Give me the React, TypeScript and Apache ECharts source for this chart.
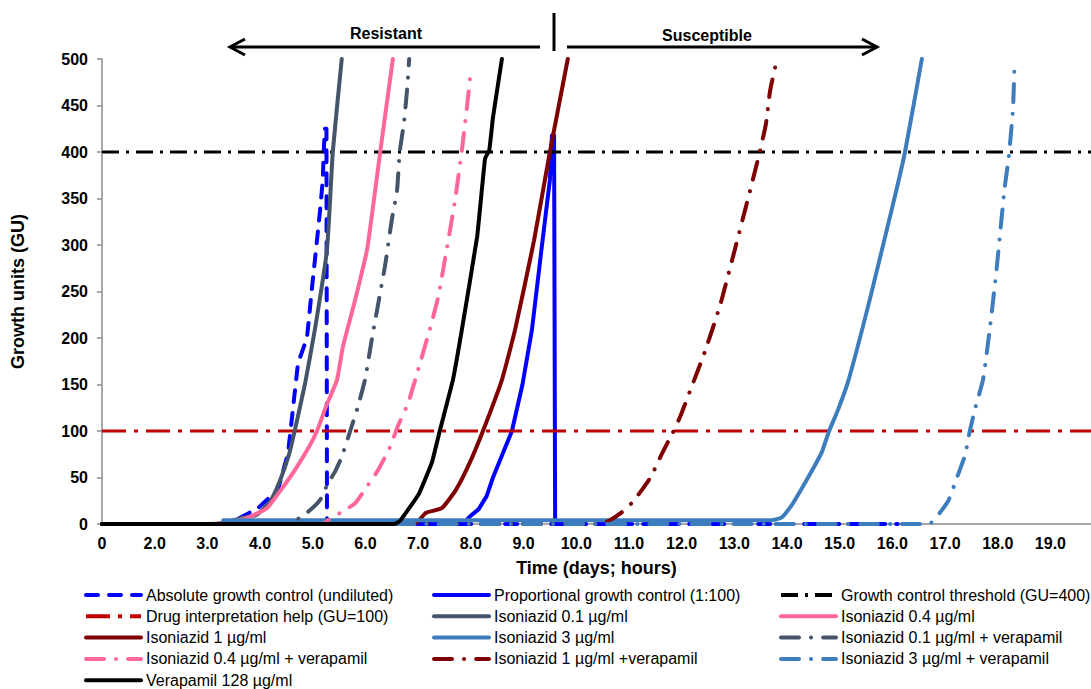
import { useEffect, useRef } from 'react';
import * as echarts from 'echarts';

// Axis ticks sit one unit apart; the labels skip "1.0" after the origin.
const xTickLabels = ['0', '2.0', '3.0', '4.0', '5.0', '6.0', '7.0', '8.0', '9.0', '10.0', '11.0', '12.0', '13.0', '14.0', '15.0', '16.0', '17.0', '18.0', '19.0'];
const xMax = 18.77;
const yMax = 500;
const yStep = 50;

// Growth curves: [tick position, growth units]
const absoluteControl = [[0, 0], [2.2, 0], [2.5, 3], [2.96, 17], [3.34, 37], [3.53, 76], [3.72, 173], [3.89, 200], [4.0, 262], [4.08, 305], [4.14, 338], [4.19, 370], [4.21, 402], [4.23, 425], [4.26, 425], [4.27, 0], [15.1, 0]];
const proportionalControl = [[0, 0], [6.85, 0], [6.98, 8], [7.15, 16], [7.3, 30], [7.42, 50], [7.6, 75], [7.78, 100], [7.98, 150], [8.16, 209], [8.33, 290], [8.5, 370], [8.54, 418], [8.58, 418], [8.6, 0]];
const thresholdLevel = 400;
const interpretationLevel = 100;
const iso01 = [[0, 0], [2.0, 0], [2.3, 1], [2.62, 6], [2.94, 10], [3.2, 25], [3.38, 47], [3.55, 75], [3.66, 101], [3.85, 150], [4.04, 209], [4.27, 295], [4.38, 400], [4.55, 500]];
const iso04 = [[0, 0], [2.1, 0], [2.4, 2], [2.73, 6], [3.13, 17], [3.4, 37], [3.66, 58], [3.93, 83], [4.08, 100], [4.25, 126], [4.46, 155], [4.57, 190], [4.8, 240], [5.03, 295], [5.28, 400], [5.52, 500]];
const iso1 = [[0, 0], [5.9, 0], [6.0, 3], [6.15, 12], [6.45, 17], [6.72, 37], [6.98, 66], [7.23, 100], [7.59, 155], [7.84, 209], [8.2, 305], [8.5, 400], [8.84, 500]];
const iso3 = [[2.3, 4], [12.7, 4], [12.9, 7], [13.11, 22], [13.3, 40], [13.51, 61], [13.66, 77], [13.8, 100], [13.97, 123], [14.17, 155], [14.57, 241], [15.03, 348], [15.24, 400], [15.56, 500]];
const iso01Verapamil = [[0, 0], [3.6, 0], [3.68, 4], [3.91, 13], [4.14, 26], [4.29, 44], [4.42, 56], [4.55, 72], [4.71, 100], [4.84, 123], [4.99, 155], [5.14, 205], [5.37, 277], [5.5, 327], [5.6, 359], [5.65, 400], [5.73, 431], [5.79, 467], [5.83, 500]];
const iso04Verapamil = [[0, 0], [4.2, 0], [4.29, 4], [4.55, 13], [4.8, 22], [4.99, 37], [5.24, 58], [5.46, 82], [5.62, 106], [5.81, 130], [6.0, 166], [6.22, 209], [6.38, 244], [6.55, 298], [6.7, 348], [6.83, 402], [6.93, 450], [7.0, 488]];
const iso1Verapamil = [[0, 0], [9.4, 0], [9.6, 3], [9.85, 12], [10.08, 24], [10.25, 37], [10.42, 51], [10.63, 76], [10.83, 98], [10.97, 115], [11.18, 146], [11.44, 185], [11.73, 235], [12.01, 295], [12.32, 363], [12.47, 397], [12.6, 430], [12.68, 466], [12.81, 500]];
const iso3Verapamil = [[0, 0], [15.6, 0], [15.73, 1], [15.9, 12], [16.07, 26], [16.24, 52], [16.38, 74], [16.47, 100], [16.58, 126], [16.72, 155], [16.85, 210], [16.98, 275], [17.13, 361], [17.21, 395], [17.29, 447], [17.32, 498]];
const verapamil128 = [[0, 0], [5.55, 0], [5.65, 3], [5.83, 17], [6.02, 33], [6.26, 66], [6.41, 100], [6.66, 155], [6.83, 209], [7.12, 309], [7.27, 393], [7.35, 402], [7.42, 437], [7.59, 500]];

const FONT = 'Arial, "Liberation Sans", Helvetica, sans-serif';
const DASHED = [12, 11];
const DASH_DOT = [18, 12, 0.1, 12];

const seriesDefs = [
  { name: 'Absolute growth control (undiluted)', data: absoluteControl, color: '#0000FF', width: 4, dash: DASHED, cap: 'round', smooth: 0 },
  { name: 'Proportional growth control (1:100)', data: proportionalControl, color: '#0000FF', width: 4, dash: 'solid', cap: 'round', smooth: 0 },
  { name: 'Growth control threshold (GU=400)', data: [[0, thresholdLevel], [xMax, thresholdLevel]], color: '#000000', width: 3, dash: [17, 7, 3, 7], cap: 'butt', smooth: 0 },
  { name: 'Drug interpretation help (GU=100)', data: [[0, interpretationLevel], [xMax, interpretationLevel]], color: '#C00000', width: 3, dash: [24, 8, 4, 8], cap: 'butt', smooth: 0 },
  { name: 'Isoniazid 0.1 µg/ml', data: iso01, color: '#44546A', width: 4, dash: 'solid', cap: 'round', smooth: 0.15 },
  { name: 'Isoniazid 0.4 µg/ml', data: iso04, color: '#FF6699', width: 4, dash: 'solid', cap: 'round', smooth: 0.15 },
  { name: 'Isoniazid 1 µg/ml', data: iso1, color: '#7F0000', width: 4, dash: 'solid', cap: 'round', smooth: 0.15 },
  { name: 'Isoniazid 3 µg/ml', data: iso3, color: '#3E7DBD', width: 4, dash: 'solid', cap: 'round', smooth: 0.15 },
  { name: 'Isoniazid 0.1 µg/ml + verapamil', data: iso01Verapamil, color: '#44546A', width: 4, dash: DASH_DOT, cap: 'round', smooth: 0.15 },
  { name: 'Isoniazid 0.4 µg/ml + verapamil', data: iso04Verapamil, color: '#FF6699', width: 4, dash: DASH_DOT, cap: 'round', smooth: 0.15 },
  { name: 'Isoniazid 1 µg/ml +verapamil', data: iso1Verapamil, color: '#7F0000', width: 4, dash: DASH_DOT, cap: 'round', smooth: 0.15 },
  { name: 'Isoniazid 3 µg/ml + verapamil', data: iso3Verapamil, color: '#3E7DBD', width: 4, dash: DASH_DOT, cap: 'round', smooth: 0.15 },
  { name: 'Verapamil 128 µg/ml', data: verapamil128, color: '#000000', width: 4, dash: 'solid', cap: 'round', smooth: 0.1 },
];

const legendColumns = [
  ['Absolute growth control (undiluted)', 'Drug interpretation help (GU=100)', 'Isoniazid 1 µg/ml', 'Isoniazid 0.4 µg/ml + verapamil', 'Verapamil 128 µg/ml'],
  ['Proportional growth control (1:100)', 'Isoniazid 0.1 µg/ml', 'Isoniazid 3 µg/ml', 'Isoniazid 1 µg/ml +verapamil'],
  ['Growth control threshold (GU=400)', 'Isoniazid 0.4 µg/ml', 'Isoniazid 0.1 µg/ml + verapamil', 'Isoniazid 3 µg/ml + verapamil'],
];
const legendLefts = [84, 432, 779];

export default function App() {
  const ref = useRef<HTMLDivElement>(null);

  useEffect(() => {
    if (!ref.current) return;
    const chart = echarts.init(ref.current, null, { renderer: 'svg' });

    const axisGray = '#8C8C8C';
    const option: any = {
      animation: false,
      backgroundColor: '#ffffff',
      grid: { left: 102, right: 0, top: 59, bottom: 165, containLabel: false, outerBoundsMode: 'none' },
      xAxis: {
        type: 'value',
        min: 0,
        max: xMax,
        interval: 1,
        name: 'Time (days; hours)',
        nameLocation: 'middle',
        nameGap: 35,
        nameTextStyle: { fontFamily: FONT, fontWeight: 'bold', fontSize: 18, color: '#000' },
        axisLine: { show: true, onZero: false, lineStyle: { color: axisGray, width: 1.5 } },
        axisTick: { show: false },
        splitLine: { show: false },
        axisLabel: {
          showMaxLabel: false,
          margin: 11,
          fontFamily: FONT,
          fontWeight: 'bold',
          fontSize: 16,
          color: '#000',
          formatter: (v: number) => (Number.isInteger(v) ? xTickLabels[v] ?? '' : ''),
        },
      },
      yAxis: {
        type: 'value',
        min: 0,
        max: yMax,
        interval: yStep,
        name: 'Growth units (GU)',
        nameLocation: 'middle',
        nameRotate: 90,
        nameGap: 75,
        nameTextStyle: { fontFamily: FONT, fontWeight: 'bold', fontSize: 18, color: '#000' },
        axisLine: { show: true, lineStyle: { color: axisGray, width: 1.5 } },
        axisTick: { show: true, length: 5, lineStyle: { color: axisGray, width: 1.5 } },
        splitLine: { show: false },
        axisLabel: { margin: 14, fontFamily: FONT, fontWeight: 'bold', fontSize: 16, color: '#000' },
      },
      legend: legendColumns.map((col, i) => ({
        orient: 'vertical',
        left: legendLefts[i],
        top: 587,
        height: 140,
        padding: 0,
        itemWidth: 55,
        itemHeight: 14,
        itemGap: 5.3,
        selectedMode: false,
        data: col,
        lineStyle: { width: 4 },
        itemStyle: { opacity: 0 },
        textStyle: { fontFamily: FONT, fontSize: 16, lineHeight: 16, color: '#000' },
      })),
      series: seriesDefs.map((s) => ({
        name: s.name,
        type: 'line',
        data: s.data,
        showSymbol: false,
        symbol: 'none',
        smooth: s.smooth,
        color: s.color,
        lineStyle: { color: s.color, width: s.width, type: s.dash, cap: s.cap, join: 'round' },
        emphasis: { disabled: true },
        silent: true,
      })),
      graphic: [
        { type: 'text', x: 386, y: 33, style: { text: 'Resistant', font: `bold 16px ${FONT}`, fill: '#000', align: 'center', verticalAlign: 'middle' } },
        { type: 'line', shape: { x1: 540, y1: 47, x2: 230, y2: 47 }, style: { stroke: '#000', lineWidth: 3 } },
        { type: 'polyline', shape: { points: [[245, 39], [230, 47], [245, 55]] }, style: { stroke: '#000', lineWidth: 3, fill: null } },
        { type: 'line', shape: { x1: 554, y1: 13, x2: 554, y2: 51 }, style: { stroke: '#000', lineWidth: 3 } },
        { type: 'line', shape: { x1: 567, y1: 47, x2: 877, y2: 47 }, style: { stroke: '#000', lineWidth: 3 } },
        { type: 'polyline', shape: { points: [[862, 39], [877, 47], [862, 55]] }, style: { stroke: '#000', lineWidth: 3, fill: null } },
        { type: 'text', x: 707, y: 35, style: { text: 'Susceptible', font: `bold 16px ${FONT}`, fill: '#000', align: 'center', verticalAlign: 'middle' } },
      ],
    };

    chart.setOption(option);
    return () => chart.dispose();
  }, []);

  return (
    <div
      ref={ref}
      style={{ position: 'fixed', left: 0, top: 0, width: 1091, height: 689, background: '#fff' }}
    />
  );
}
